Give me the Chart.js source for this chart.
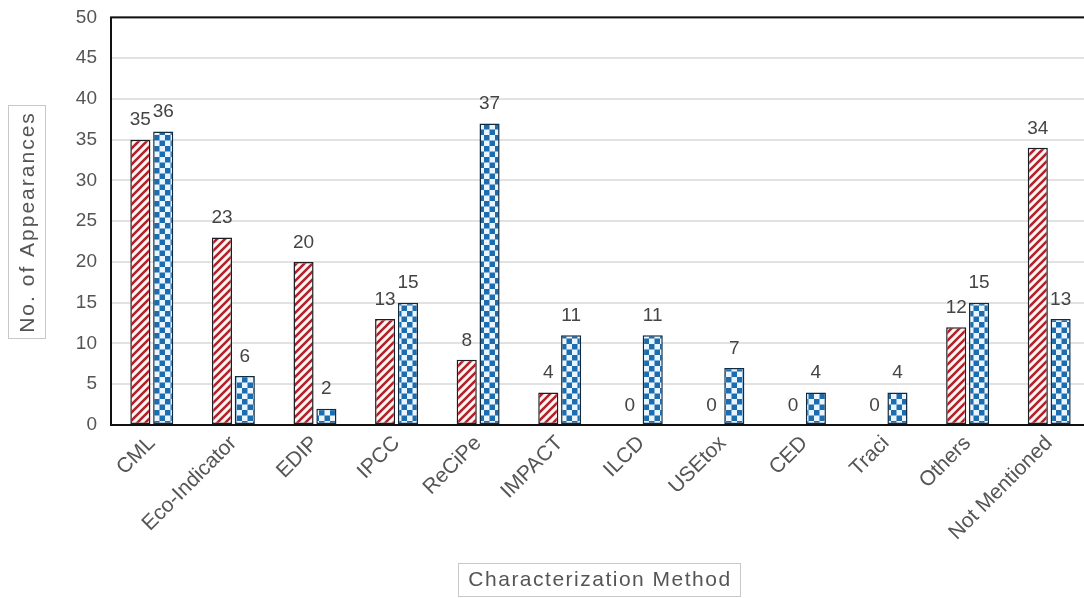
<!DOCTYPE html>
<html>
<head>
<meta charset="utf-8">
<title>Characterization Method</title>
<style>
  html, body { margin: 0; padding: 0; background: #fff; overflow: hidden; }
  #wrap { width: 1096px; height: 606px; position: relative; margin-top: -8px; }
</style>
</head>
<body>
<div id="wrap"><canvas id="myChart"></canvas></div>
<script src="https://cdn.jsdelivr.net/npm/chart.js@4.4.0/dist/chart.umd.min.js"></script>
<script>
var methods = ['CML', 'Eco-Indicator', 'EDIP', 'IPCC', 'ReCiPe', 'IMPACT', 'ILCD', 'USEtox', 'CED', 'Traci', 'Others', 'Not Mentioned'];
var seriesA = [35, 23, 20, 13, 8, 4, 0, 0, 0, 0, 12, 34];
var seriesB = [36, 6, 2, 15, 37, 11, 11, 7, 4, 4, 15, 13];
var yTitle = 'No. of Appearances';
var xTitle = 'Characterization Method';

var FONT = '"Liberation Sans", Arial, sans-serif';
var SHIFT = 8; // canvas is moved up by this much

function stripes() {
  var c = document.createElement('canvas');
  c.width = 8; c.height = 8;
  var g = c.getContext('2d');
  g.fillStyle = '#fff6f2';
  g.fillRect(0, 0, 8, 8);
  g.strokeStyle = '#b3202a';
  g.lineWidth = 2.6;
  g.beginPath();
  g.moveTo(-1, 9); g.lineTo(9, -1);
  g.moveTo(-5, 5); g.lineTo(5, -5);
  g.moveTo(3, 13); g.lineTo(13, 3);
  g.stroke();
  return g.createPattern(c, 'repeat');
}

function checks() {
  var c = document.createElement('canvas');
  c.width = 11; c.height = 11;
  var g = c.getContext('2d');
  g.fillStyle = '#eaf5ff';
  g.fillRect(0, 0, 11, 11);
  g.fillStyle = '#1b6db0';
  g.fillRect(0, 0, 5.5, 5.5);
  g.fillRect(5.5, 5.5, 5.5, 5.5);
  return g.createPattern(c, 'repeat');
}

// value labels over every bar
var valueLabels = {
  id: 'valueLabels',
  afterDatasetsDraw: function(chart) {
    var ctx = chart.ctx;
    ctx.save();
    ctx.font = '19px ' + FONT;
    ctx.fillStyle = '#444';
    ctx.textAlign = 'center';
    ctx.textBaseline = 'bottom';
    chart.data.datasets.forEach(function(ds, i) {
      chart.getDatasetMeta(i).data.forEach(function(bar, j) {
        ctx.fillText(ds.data[j], bar.x, bar.y - 10);
      });
    });
    ctx.restore();
  }
};

// frame and the boxed axis titles
var frame = {
  id: 'frame',
  afterDraw: function(chart) {
    var ctx = chart.ctx, a = chart.chartArea;
    ctx.save();
    ctx.strokeStyle = '#111';
    ctx.lineWidth = 2;
    ctx.strokeRect(a.left, a.top, a.right - a.left, a.bottom - a.top);

    ctx.font = '21px ' + FONT;
    ctx.fillStyle = '#555';
    ctx.textAlign = 'center';
    ctx.textBaseline = 'middle';
    ctx.strokeStyle = '#c8c8c8';
    ctx.lineWidth = 1;

    ctx.strokeRect(8.5, 105.5 + SHIFT, 37, 233);
    ctx.save();
    ctx.letterSpacing = '2px';
    ctx.translate(28, 222 + SHIFT);
    ctx.rotate(-Math.PI / 2);
    ctx.fillText(yTitle, 0, 0);
    ctx.restore();

    ctx.save();
    ctx.letterSpacing = '1.5px';
    ctx.strokeRect(458.5, 563.5 + SHIFT, 282, 33);
    ctx.fillText(xTitle, 600, 580 + SHIFT);
    ctx.restore();
    ctx.restore();
  }
};

var ctx = document.getElementById('myChart').getContext('2d');
var chart = new Chart(ctx, {
  type: 'bar',
  data: {
    labels: methods,
    datasets: [{
      label: 'A',
      data: seriesA,
      backgroundColor: stripes(),
      borderColor: '#1c1c24',
      borderWidth: 1.5,
      borderSkipped: false,
      categoryPercentage: 0.56,
      barPercentage: 0.88
    }, {
      label: 'B',
      data: seriesB,
      backgroundColor: checks(),
      borderColor: '#102a40',
      borderWidth: 1.5,
      borderSkipped: false,
      categoryPercentage: 0.56,
      barPercentage: 0.88
    }]
  },
  options: {
    responsive: true,
    maintainAspectRatio: false,
    animation: false,
    layout: { padding: { top: 6, right: 6, left: 0, bottom: 0 } },
    plugins: {
      legend: { display: false },
      tooltip: { enabled: false }
    },
    scales: {
      x: {
        grid: { display: false },
        border: { display: false },
        ticks: {
          color: '#555',
          font: { family: FONT, size: 21 },
          minRotation: 45,
          maxRotation: 45,
          padding: -2
        },
        afterFit: function(s) { s.height = 173; }
      },
      y: {
        min: 0,
        max: 50,
        grid: { color: '#e2e2e2', lineWidth: 2, drawTicks: false },
        border: { display: false },
        ticks: {
          stepSize: 5,
          color: '#555',
          font: { family: FONT, size: 19 },
          padding: 14
        },
        afterFit: function(s) { s.width = 111; }
      }
    }
  },
  plugins: [valueLabels, frame]
});
</script>
</body>
</html>
